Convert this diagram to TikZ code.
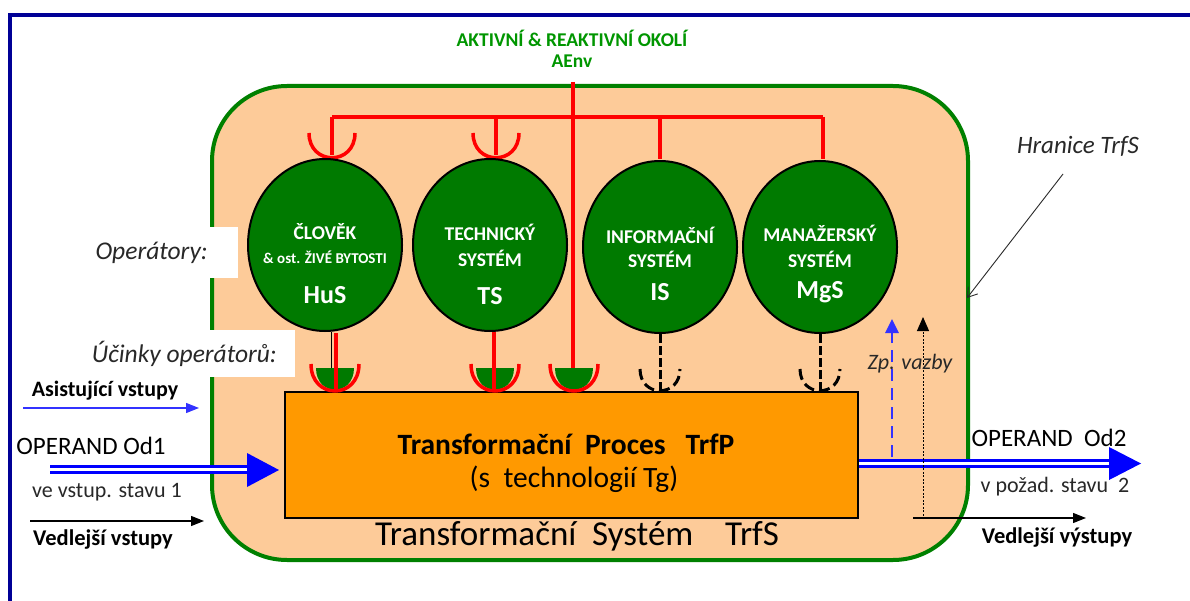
\documentclass[tikz,border=0pt]{standalone}
\usepackage{fontspec}
\setmainfont{Carlito}
\usetikzlibrary{shapes.geometric,arrows.meta}

\definecolor{framenavy}{RGB}{0,0,150}
\definecolor{peach}{RGB}{253,203,153}
\definecolor{bordergreen}{RGB}{0,128,0}
\definecolor{opgreen}{RGB}{0,122,0}
\definecolor{envgreen}{RGB}{0,150,0}
\definecolor{procorange}{RGB}{255,153,0}
\definecolor{flowblue}{RGB}{0,0,255}
\definecolor{softblue}{RGB}{50,50,255}
\definecolor{envred}{RGB}{255,0,0}
\definecolor{inkgrey}{RGB}{40,40,40}

\newcommand{\fsz}[1]{\fontsize{#1pt}{#1pt}\selectfont}

\begin{document}
\begin{tikzpicture}[x=1pt,y=-1pt,
  operator/.style={ellipse, draw=black, line width=2pt, fill=opgreen,
    minimum width=154pt, minimum height=172pt, inner sep=0pt},
  optitle/.style={text=white, font=\bfseries\fsz{19.5}, inner sep=0pt},
  opsub/.style={text=white, font=\bfseries\fsz{15}, inner sep=0pt},
  opabbr/.style={text=white, font=\bfseries\fsz{26}, inner sep=0pt},
  envline/.style={envred, line width=4pt},
  envcup/.style={envred, line width=3.5pt},
  infoline/.style={black, line width=3pt, dash pattern=on 9pt off 3pt},
  infocup/.style={black, line width=3pt, dash pattern=on 11pt off 5pt},
  plain/.style={inner sep=0pt, text=black},
  sidearrow/.style={line width=1.2pt, -{Triangle[length=13pt,width=10pt]}},
  opflow/.style={flowblue, line width=2.6pt, double=white, double distance=3.5pt},
]
\useasboundingbox (0,0) rectangle (1190,601);
\fill[white] (0,0) rectangle (1190,601);

% outer frame
\draw[framenavy, line width=4pt] (10,610) -- (10,15) -- (1195,15);

% transformation system boundary
\node[draw=bordergreen, line width=4pt, fill=peach, rounded corners=75pt,
      minimum width=756pt, minimum height=474pt, inner sep=0pt] (trfs) at (590,323) {};

% side labels on white patches
\node[fill=white, anchor=east, minimum height=51pt, inner xsep=30pt,
      font=\itshape\fsz{25.5}, text=inkgrey] (oplabel) at (238,252.5) {Operátory:};
\node[fill=white, anchor=east, minimum height=47pt, inner xsep=18pt,
      font=\itshape\fsz{25.5}, text=inkgrey] (efflabel) at (295,353.5) {Účinky operátorů:};

% active environment
\node[plain, text=envgreen, font=\bfseries\fsz{19.5}] (envtitle) at (572,38) {AKTIVNÍ \& REAKTIVNÍ OKOLÍ};
\node[plain, text=envgreen, font=\bfseries\fsz{19.5}] (envabbr) at (572,61) {AEnv};

% process box
\node[draw=black, line width=2pt, fill=procorange, minimum width=573pt,
      minimum height=126pt, inner sep=0pt] (trfp) at (571.5,455) {};

% environment distribution bus
\coordinate (bus1) at (332,117);
\coordinate (bus2) at (496,117);
\coordinate (bus3) at (660,117);
\coordinate (bus4) at (823,117);
\coordinate (envtop) at (573,82);
\draw[envline] (envtop) -- (573,392);
\draw[envline] (bus1) -- (bus4);
\draw[envline] (bus1) -- (332,155);
\draw[envline] (bus2) -- (496,155);
\draw[envline] (bus3) -- (660,159);
\draw[envline] (bus4) -- (823,159);
% receptor cups above HuS and TS
\draw[envcup] (309,133) .. controls (309,166) and (355,166) .. (355,133);
\draw[envcup] (473,133) .. controls (473,166) and (519,166) .. (519,133);

% operators
\node[operator] (hus) at (325,245) {};
\node[operator] (ts)  at (490,245) {};
\node[operator] (is)  at (660,247) {};
\node[operator] (mgs) at (820,247) {};

\node[optitle] (hus1) at (325,232) {ČLOVĚK};
\node[opsub]   (hus2) at (325,257) {\& ost. ŽIVÉ BYTOSTI};
\node[opabbr]  (hus3) at (325,295) {HuS};
\node[optitle] (ts1) at (490,232) {TECHNICKÝ};
\node[optitle] (ts2) at (490,258) {SYSTÉM};
\node[opabbr]  (ts3) at (490,296) {TS};
\node[optitle] (is1) at (660,235) {INFORMAČNÍ};
\node[optitle] (is2) at (660,259) {SYSTÉM};
\node[opabbr]  (is3) at (660,292) {IS};
\node[optitle] (mgs1) at (820,233) {MANAŽERSKÝ};
\node[optitle] (mgs2) at (820,259) {SYSTÉM};
\node[opabbr]  (mgs3) at (820,292) {MgS};

% effects of the operators on the process
\draw[black, line width=1pt] (hus.south -| 331,0) -- (331,392);
\draw[black, line width=1pt] (ts.south -| 493,0) -- (493,392);
\foreach \cx in {335, 495, 574} {
  \fill[opgreen] (\cx-19,368) -- (\cx+19,368) .. controls (\cx+19,397) and (\cx-19,397) .. cycle;
}
\draw[envline] (336,333) -- (336,392);
\draw[envline] (494,332) -- (494,392);
\foreach \cx in {335, 495, 574} {
  \draw[envcup] (\cx-24,364) .. controls (\cx-24,400) and (\cx+24,400) .. (\cx+24,364);
}
\draw[infoline] (is.south) -- (660,392);
\draw[infoline] (mgs.south) -- (820,392);
\foreach \cx in {660, 820} {
  \draw[infocup] (\cx-20,369) .. controls (\cx-20,398) and (\cx+20,398) .. (\cx+20,369);
}

% process texts
\node[plain, font=\bfseries\fsz{29.5}] (proc1) at (566,444) {Transformační\ \ Proces\ \ \ TrfP};
\node[plain, font=\fsz{29.5}] (proc2) at (574,479) {(s\ \ technologií Tg)};
\node[plain, font=\fsz{35}] (sys1) at (577,536) {Transformační\ \ Systém\ \ \ \ TrfS};

% inputs
\coordinate (asin) at (23,408);
\coordinate (asout) at (199,408);
\node[plain, font=\bfseries\fsz{22}] (aslabel) at (105,391) {Asistující vstupy};
\draw[sidearrow, softblue] (asin) -- (asout);

\node[plain, font=\fsz{25}] (od1label) at (91,446) {OPERAND Od1};
\coordinate (od1in) at (50,469.5);
\coordinate (od1tip) at (279,470);
\draw[opflow] (od1in) -- (250,469.5);
\fill[flowblue] (od1tip) -- (247,453) -- (247,487) -- cycle;
\node[plain, font=\fsz{22}, text=inkgrey] (od1state) at (107,492) {ve vstup. stavu 1};

\coordinate (sidein) at (30,521);
\coordinate (sideinend) at (204,521);
\draw[sidearrow, black] (sidein) -- (sideinend);
\node[plain, font=\bfseries\fsz{22.5}] (sideinlabel) at (103,540) {Vedlejší vstupy};

% outputs
\coordinate (od2out) at (1141,463.5);
\draw[opflow] (trfp.east |- 0,463.5) -- (1112,463.5);
\fill[flowblue] (od2out) -- (1109,447) -- (1109,480) -- cycle;
\node[plain, font=\fsz{25}] (od2label) at (1049,438) {OPERAND\ \ Od2};
\node[plain, font=\fsz{22}, text=inkgrey] (od2state) at (1055,487) {v požad. stavu\ \ 2};

\coordinate (sideout) at (913,518);
\coordinate (sideoutend) at (1086,518);
\draw[sidearrow, black] (sideout) -- (sideoutend);
\node[plain, font=\bfseries\fsz{22.5}] (sideoutlabel) at (1057,538) {Vedlejší výstupy};

% feedback
\coordinate (fbblue) at (892,457);
\coordinate (fbbluetip) at (892,319);
\draw[softblue, line width=2.8pt, dash pattern=on 12pt off 7pt,
      -{Triangle[length=14pt,width=13pt]}] (fbblue) -- (fbbluetip);
\coordinate (fbblack) at (923,519);
\coordinate (fbblacktip) at (923,317);
\draw[black, line width=1pt, dash pattern=on 2pt off 1.5pt,
      -{Triangle[length=14pt,width=12pt]}] (fbblack) -- (fbblacktip);
\node[plain, font=\itshape\fsz{22}, text=inkgrey] (fblabel) at (910,364) {Zp. vazby};

% boundary annotation
\node[plain, font=\itshape\fsz{25}, text=inkgrey] (bndlabel) at (1078,146) {Hranice TrfS};
\coordinate (bndfrom) at (1063,174);
\coordinate (bndto) at (967,298);
\draw[inkgrey, line width=0.9pt, -{Straight Barb[length=9pt,width=12pt]}] (bndfrom) -- (bndto);
\end{tikzpicture}
\end{document}
